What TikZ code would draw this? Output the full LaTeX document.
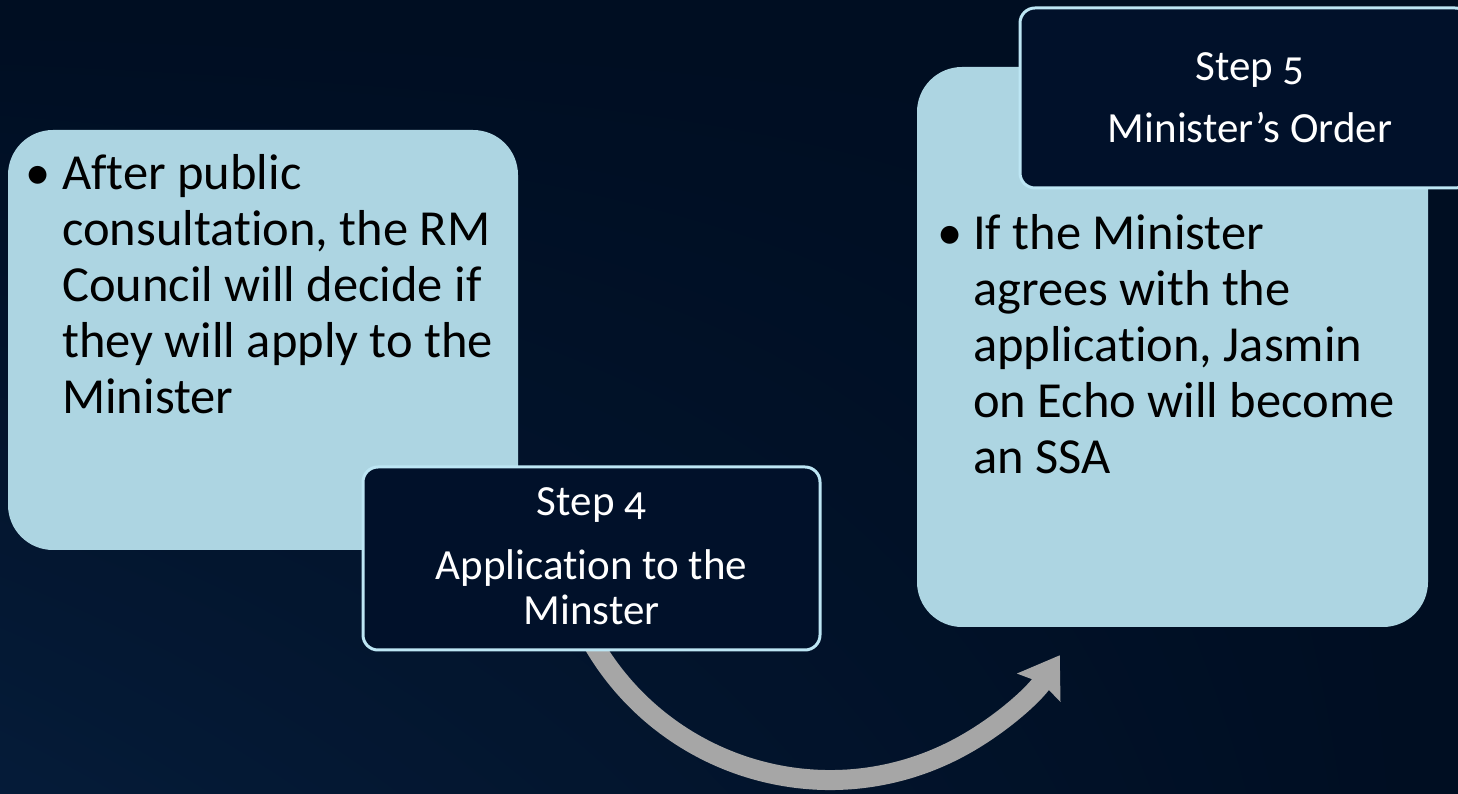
\documentclass[tikz,border=0pt]{standalone}
\usepackage{fontspec}
\setmainfont{Carlito}[Ligatures=NoCommon]
\usetikzlibrary{arrows.meta,calc,shadings}
\definecolor{bgnavy}{HTML}{000E22}
\definecolor{bgglow}{HTML}{0D2D55}
\definecolor{lightbox}{HTML}{ADD5E2}
\definecolor{darkbox}{HTML}{01112A}
\definecolor{darkedge}{HTML}{BDE6F4}
\definecolor{arrowgray}{HTML}{A6A6A6}
\tikzset{
  bigbox/.style={fill=lightbox, draw=none, rounded corners=45pt, inner sep=0pt},
  stepbox/.style={fill=darkbox, draw=darkedge, line width=3pt, rounded corners=15pt, inner sep=0pt},
  bodytext/.style={font=\fontsize{50.5}{56}\selectfont, text=black, inner sep=0pt},
  steptext/.style={font=\fontsize{43}{45}\selectfont\addfontfeatures{Numbers=OldStyle}, text=white, inner sep=0pt},
  flow/.style={draw=arrowgray, line width=20pt, -{Stealth[length=38pt,width=50pt,inset=5pt]}}
}
\begin{document}
\begin{tikzpicture}[x=1pt,y=1pt]
\useasboundingbox (0,0) rectangle (1458,794);
% background
\shade[lower left=bgglow, lower right=bgnavy, upper left=bgnavy, upper right=bgnavy] (0,0) rectangle (1458,794);
\fill[bgnavy, opacity=0.55] (0,0) rectangle (1458,794);

% arrow (behind the boxes)
\coordinate (arcstart) at ($(830,288)+(208:274)$);
\draw[flow] (arcstart) arc[start angle=208, end angle=327, radius=274] coordinate (arcend);

% left content box
\node[bigbox, minimum width=510pt, minimum height=420pt] (leftbox) at (263,454) {};
\node[bodytext, anchor=base] (lb) at (38,604) {•};
\node[bodytext, anchor=base west] (l1) at (62,604) {After public};
\node[bodytext, anchor=base west] (l2) at (62,548) {consultation, the RM};
\node[bodytext, anchor=base west] (l3) at (62,492) {Council will decide if};
\node[bodytext, anchor=base west] (l4) at (62,436) {they will apply to the};
\node[bodytext, anchor=base west] (l5) at (62,380) {Minister};

% right content box
\node[bigbox, minimum width=511pt, minimum height=560pt] (rightbox) at (1172.5,447) {};
\node[bodytext, anchor=base] (rb) at (950,544) {•};
\node[bodytext, anchor=base west] (r1) at (973,544) {If the Minister};
\node[bodytext, anchor=base west] (r2) at (973,488) {agrees with the};
\node[bodytext, anchor=base west] (r3) at (973,432) {application, Jasmin};
\node[bodytext, anchor=base west] (r4) at (973,376) {on Echo will become};
\node[bodytext, anchor=base west] (r5) at (973,320) {an SSA};

% step 4
\node[stepbox, minimum width=457pt, minimum height=183pt] (step4) at (591.5,235.5) {};
\node[steptext, anchor=base] (s4a) at (591.5,278) {Step 4};
\node[steptext, anchor=base] (s4b) at (591.5,214) {Application to the};
\node[steptext, anchor=base] (s4c) at (591.5,169) {Minster};

% step 5
\node[stepbox, minimum width=450pt, minimum height=180pt] (step5) at (1245,696) {};
\node[steptext, anchor=base] (s5a) at (1250,713) {Step 5};
\node[steptext, anchor=base] (s5b) at (1250,651) {Minister’s Order};
\end{tikzpicture}
\end{document}
